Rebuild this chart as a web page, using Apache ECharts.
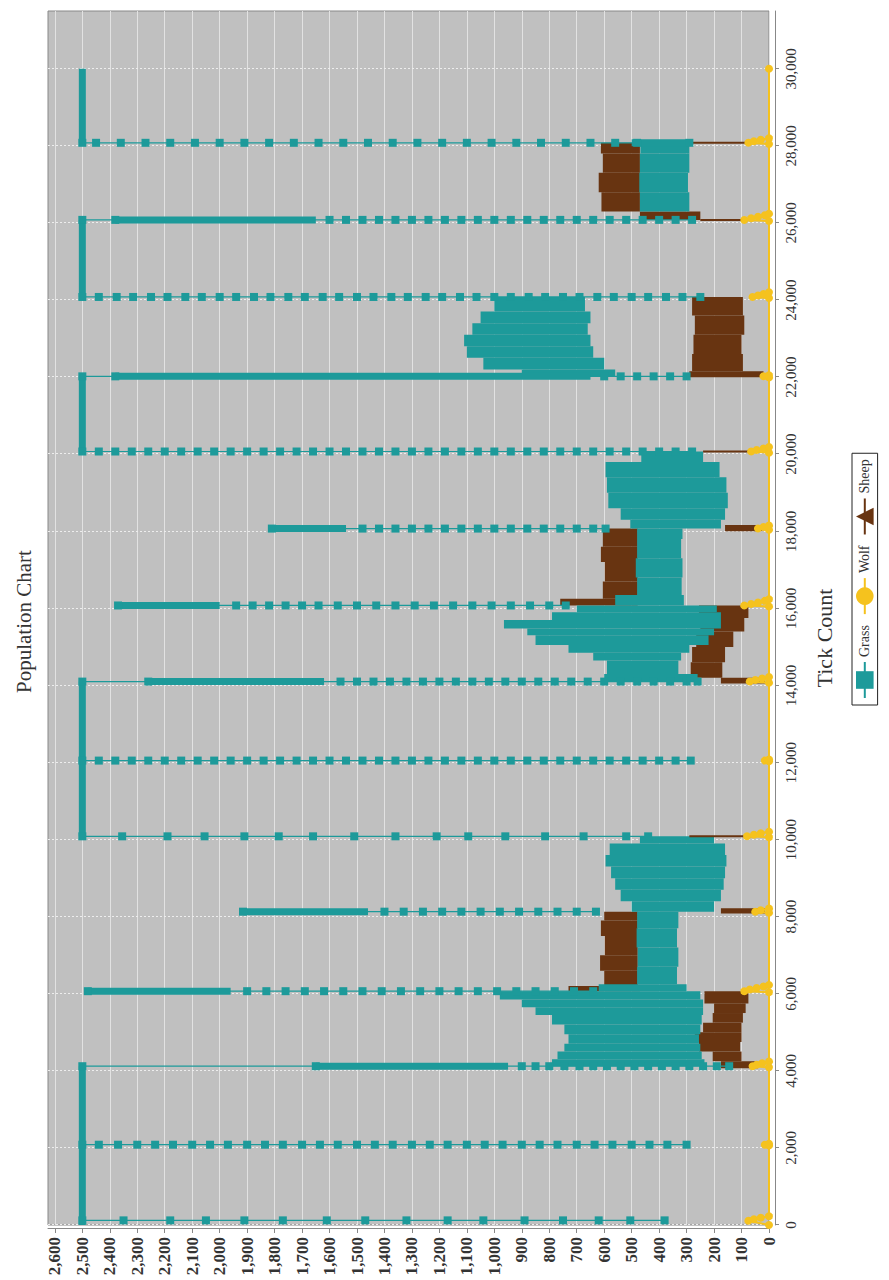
<!DOCTYPE html>
<html>
<head>
<meta charset="utf-8">
<script src="https://cdn.jsdelivr.net/npm/echarts@6.0.0/dist/echarts.min.js"></script>
<style>
  html, body { margin: 0; padding: 0; background: #fff; }
  body { width: 889px; height: 1280px; overflow: hidden; position: relative; }
  /* chart is laid out landscape and turned a quarter left, like the scanned page */
  #chart { position: absolute; left: 0; top: 1280px; width: 1280px; height: 889px;
           transform-origin: 0 0; transform: rotate(-90deg); }
</style>
</head>
<body>
<div id="chart"></div>
<script>
const tickCounts = [0, 2000, 4000, 6000, 8000, 10000, 12000, 14000, 16000, 18000, 20000, 22000, 24000, 26000, 28000, 30000]
const popTicks = [0, 100, 200, 300, 400, 500, 600, 700, 800, 900, 1000, 1100, 1200, 1300, 1400, 1500, 1600, 1700, 1800, 1900, 2000, 2100, 2200, 2300, 2400, 2500, 2600]

// grass: columns of samples at the start of each run [tick, values]
const grassRows = [
  [120, [2500, 2350, 2180, 2050, 1910, 1770, 1610, 1470, 1320, 1170, 1040, 890, 750, 620, 505, 380]],
  [2083, [2500, 2440, 2370, 2300, 2235, 2170, 2100, 2035, 1970, 1900, 1835, 1770, 1700, 1635, 1570, 1500, 1435, 1370, 1300, 1235, 1170, 1100, 1035, 970, 900, 835, 770, 700, 635, 570, 500, 435, 370, 300]],
  [4120, [2500, 1650, 900, 850, 800, 745, 690, 640, 590, 540, 490, 440, 390, 340, 290, 240, 190, 145]],
  [6067, [2480, 1900, 1830, 1760, 1690, 1620, 1550, 1480, 1410, 1340, 1270, 1200, 1130, 1060, 990, 920, 850, 780, 710, 640]],
  [8130, [1915, 1400, 1330, 1260, 1190, 1120, 1050, 980, 910, 840, 770, 700, 630]],
  [10085, [2500, 2355, 2190, 2055, 1910, 1785, 1660, 1510, 1360, 1210, 1095, 960, 815, 675, 520, 440]],
  [12050, [2500, 2440, 2380, 2320, 2260, 2200, 2140, 2080, 2020, 1960, 1900, 1840, 1780, 1720, 1660, 1600, 1540, 1480, 1420, 1360, 1300, 1240, 1180, 1120, 1060, 1000, 940, 880, 820, 760, 700, 640, 580, 520, 460, 400, 340, 285]],
  [14100, [2500, 2260, 1560, 1500, 1440, 1380, 1320, 1260, 1200, 1140, 1080, 1020, 960, 900, 840, 780, 720, 660, 600, 540, 480, 420, 360, 300, 260]],
  [16075, [2370, 1940, 1880, 1820, 1760, 1700, 1640, 1570, 1500, 1430, 1360, 1290, 1220, 1150, 1080, 1010, 940, 870, 800, 740]],
  [18070, [1810, 1480, 1420, 1360, 1300, 1240, 1180, 1120, 1060, 1000, 940, 880, 820, 760, 700, 640, 595]],
  [20070, [2500, 2440, 2380, 2320, 2260, 2200, 2140, 2080, 2020, 1960, 1900, 1840, 1780, 1720, 1660, 1600, 1540, 1480, 1420, 1360, 1300, 1240, 1180, 1120, 1060, 1000, 940, 880, 820, 760, 700, 640, 580, 520, 460, 400, 340, 280]],
  [22020, [2500, 2380, 600, 540, 480, 420, 360, 300]],
  [24080, [2500, 2440, 2375, 2315, 2250, 2190, 2125, 2065, 2000, 1940, 1875, 1815, 1750, 1690, 1625, 1565, 1500, 1440, 1375, 1315, 1250, 1190, 1125, 1065, 1000, 940, 875, 815, 750, 690, 625, 565, 500, 440, 375, 315, 250]],
  [26080, [2500, 2380, 1600, 1540, 1480, 1420, 1360, 1300, 1240, 1180, 1120, 1060, 1000, 940, 880, 820, 760, 700, 640, 580, 520, 460, 400, 340, 280]],
  [28080, [2500, 2450, 2360, 2270, 2180, 2090, 2000, 1910, 1820, 1730, 1640, 1550, 1460, 1370, 1280, 1190, 1100, 1010, 920, 830, 740, 650, 560, 480, 290]]
]

// grass: stretches where the samples sit so close they read as a solid bar [t0, v0, t1, v1]
const grassSolid = [
  [0, 2500, 4120, 2500],
  [4120, 1650, 4120, 950],
  [6067, 2480, 6067, 1960],
  [8130, 1915, 8130, 1460],
  [10085, 2500, 14100, 2500],
  [14100, 2260, 14100, 1620],
  [16075, 2370, 16075, 2000],
  [18070, 1810, 18070, 1540],
  [20070, 2500, 22020, 2500],
  [22020, 2380, 22020, 650],
  [24080, 2500, 26080, 2500],
  [26080, 2380, 26080, 1650],
  [28080, 500, 28080, 290],
  [28080, 2500, 30000, 2500]
]

// grass: range it swings through while sheep are alive [t0, t1, low, high]
const grassBands = [
  [4120, 4300, 235, 790], [4300, 4500, 245, 770], [4500, 4700, 250, 745], [4700, 4950, 255, 730],
  [4950, 5200, 250, 745], [5200, 5450, 245, 790], [5450, 5650, 240, 850], [5650, 5850, 240, 900],
  [5850, 6067, 250, 980],
  [6067, 6250, 300, 620], [6250, 6700, 335, 480], [6700, 7200, 330, 478], [7200, 7700, 335, 482],
  [7700, 8130, 330, 480],
  [8130, 8400, 200, 500], [8400, 8700, 175, 540], [8700, 9000, 165, 560], [9000, 9300, 160, 575],
  [9300, 9600, 155, 595], [9600, 9900, 160, 580], [9900, 10085, 200, 470],
  [14100, 14300, 260, 600], [14300, 14650, 330, 590], [14650, 14850, 320, 640], [14850, 15050, 290, 730],
  [15050, 15300, 220, 850], [15300, 15480, 200, 880], [15480, 15700, 175, 965], [15700, 15900, 175, 790],
  [15900, 16075, 190, 700],
  [16075, 16350, 310, 560], [16350, 16800, 318, 480], [16800, 17300, 315, 485], [17300, 17800, 320, 480],
  [17800, 18070, 315, 480],
  [18070, 18300, 175, 505], [18300, 18600, 160, 540], [18600, 19000, 150, 585], [19000, 19400, 155, 590],
  [19400, 19800, 180, 595], [19800, 20070, 240, 465],
  [22020, 22200, 560, 900], [22200, 22500, 600, 1040], [22500, 22800, 640, 1100], [22800, 23100, 650, 1110],
  [23100, 23400, 660, 1080], [23400, 23700, 650, 1050], [23700, 24080, 670, 1000],
  [26300, 26800, 290, 470], [26800, 27300, 295, 472], [27300, 27800, 290, 470], [27800, 28080, 290, 468]
]

const sheepBands = [
  [4070, 4250, 40, 175], [4250, 4500, 100, 205], [4500, 4750, 105, 255], [4750, 5000, 100, 270],
  [5000, 5250, 100, 240], [5250, 5500, 95, 205], [5500, 5750, 85, 200], [5750, 6067, 75, 235],
  [6067, 6200, 470, 730], [6200, 6600, 478, 600], [6600, 7000, 478, 615], [7000, 7500, 478, 598],
  [7500, 7900, 478, 612], [7900, 8130, 478, 600],
  [8080, 8220, 15, 175],
  [14050, 14200, 15, 175], [14200, 14600, 170, 285], [14600, 15000, 160, 280], [15000, 15400, 130, 265],
  [15400, 15750, 90, 250], [15750, 16075, 75, 255],
  [16075, 16250, 478, 760], [16250, 16700, 478, 605], [16700, 17200, 478, 598], [17200, 17600, 478, 612],
  [17600, 18070, 478, 605],
  [18000, 18160, 25, 160],
  [22000, 22150, 20, 290], [22150, 22600, 95, 280], [22600, 23100, 100, 275], [23100, 23600, 90, 270],
  [23600, 24080, 95, 280],
  [26080, 26300, 250, 470], [26300, 26800, 470, 610], [26800, 27300, 470, 620], [27300, 27800, 470, 605],
  [27800, 28080, 470, 612]
]

// sheep: short drops at run changes [tick, from, to]
const sheepDrops = [[10085, 290, 60], [20070, 240, 50], [26080, 250, 60], [28080, 290, 80]]

const wolfPoints = [
  [0, 0], [110, 75], [150, 55], [190, 30], [230, 0],
  [2060, 0], [2083, 15], [2110, 0],
  [4090, 0], [4120, 60], [4160, 45], [4200, 25], [4240, 0],
  [6040, 0], [6067, 90], [6110, 70], [6150, 45], [6190, 20], [6230, 0],
  [8100, 0], [8130, 50], [8170, 30], [8210, 0],
  [10060, 0], [10085, 80], [10125, 55], [10165, 30], [10205, 0],
  [12030, 0], [12050, 15], [12080, 0],
  [14070, 0], [14100, 70], [14140, 50], [14180, 25], [14220, 0],
  [16050, 0], [16075, 90], [16115, 65], [16155, 40], [16195, 15], [16235, 0],
  [18040, 0], [18070, 40], [18110, 20], [18150, 0],
  [20040, 0], [20070, 65], [20110, 45], [20150, 20], [20190, 0],
  [21990, 0], [22020, 20], [22050, 0],
  [24050, 0], [24080, 60], [24120, 40], [24160, 20], [24200, 0],
  [26050, 0], [26080, 90], [26120, 65], [26160, 40], [26200, 15], [26240, 0],
  [28050, 0], [28080, 75], [28120, 55], [28160, 30], [28200, 0],
  [30000, 0]
]

const GRASS = '#1d9a9a'
const WOLF = '#f5c21e'
const SHEEP = '#683411'
const FONT = 'Liberation Serif'

function rowsToLine(rows) {
  let out = []
  rows.forEach(r => {
    r[1].forEach(v => out.push([r[0], v]))
    out.push([r[0], '-'])
  })
  return out
}

function segsToLine(segs) {
  let out = []
  segs.forEach(s => {
    out.push([s[0], s[1]], [s[2], s[3]], [s[2], '-'])
  })
  return out
}

function bandSeries(name, color, bands) {
  return {
    name: name,
    type: 'custom',
    data: bands,
    encode: { x: [0, 1], y: [2, 3] },
    renderItem: function(params, api) {
      let a = api.coord([api.value(0), api.value(3)])
      let b = api.coord([api.value(1), api.value(2)])
      return {
        type: 'rect',
        shape: { x: a[0], y: a[1], width: b[0] - a[0], height: b[1] - a[1] },
        style: { fill: color }
      }
    }
  }
}

const fmt = v => v.toLocaleString('en-US')

var myChart = echarts.init(document.getElementById('chart'), null, { renderer: 'svg', width: 1280, height: 889 })
let option = {
  animation: false,
  title: {
    text: 'Population Chart',
    left: 582,
    top: 8,
    textStyle: { fontFamily: FONT, fontWeight: 'normal', fontSize: 21, color: '#333' }
  },
  legend: {
    data: ['Grass', 'Wolf', 'Sheep'],
    left: 575,
    top: 852,
    itemWidth: 36,
    itemHeight: 22,
    itemGap: 10,
    padding: [4, 6],
    borderColor: '#222',
    borderWidth: 1,
    backgroundColor: '#fff',
    textStyle: { fontFamily: FONT, fontSize: 14, color: '#333' }
  },
  grid: {
    left: 55, right: 11, top: 48, bottom: 120,
    show: true,
    backgroundColor: '#c0c0c0',
    borderColor: '#888',
    borderWidth: 1,
    outerBoundsMode: 'none'
  },
  xAxis: {
    type: 'value',
    min: 0,
    max: 31500,
    interval: 2000,
    offset: 6,
    name: 'Tick Count',
    nameLocation: 'middle',
    nameGap: 38,
    nameTextStyle: { fontFamily: FONT, fontSize: 22, color: '#333', padding: [0, 40, 0, 0] },
    axisLine: { show: true, onZero: false, lineStyle: { color: '#888' } },
    axisTick: { show: true, length: 4, customValues: tickCounts, lineStyle: { color: '#888' } },
    axisLabel: { margin: 8, customValues: tickCounts, fontFamily: FONT, fontSize: 15, color: '#333', formatter: fmt },
    splitLine: { show: true, lineStyle: { color: '#ededed', type: [2, 2], width: 1 } }
  },
  yAxis: {
    type: 'value',
    min: 0,
    max: 2625,
    interval: 100,
    offset: 4,
    axisLine: { show: true, onZero: false, lineStyle: { color: '#888' } },
    axisTick: { show: true, length: 4, customValues: popTicks, lineStyle: { color: '#888' } },
    axisLabel: { margin: 8, customValues: popTicks, fontFamily: FONT, fontWeight: 'bold', fontSize: 17, color: '#333', formatter: fmt },
    splitLine: { show: true, lineStyle: { color: '#e2e2e2', width: 1 } }
  },
  series: [
    {
      name: 'Sheep',
      type: 'line',
      data: segsToLine(sheepDrops.map(d => [d[0], d[1], d[0], d[2]])),
      symbol: 'triangle',
      showSymbol: false,
      lineStyle: { color: SHEEP, width: 2 },
      itemStyle: { color: SHEEP }
    },
    bandSeries('Sheep', SHEEP, sheepBands),
    {
      name: 'Wolf',
      type: 'line',
      data: wolfPoints,
      symbol: 'circle',
      symbolSize: 8,
      lineStyle: { color: WOLF, width: 2 },
      itemStyle: { color: WOLF }
    },
    {
      name: 'Grass',
      type: 'line',
      data: rowsToLine(grassRows),
      symbol: 'rect',
      symbolSize: 8,
      lineStyle: { color: GRASS, width: 1.2 },
      itemStyle: { color: GRASS }
    },
    {
      name: 'Grass',
      type: 'line',
      data: segsToLine(grassSolid),
      showSymbol: false,
      lineStyle: { color: GRASS, width: 7, cap: 'butt' },
      itemStyle: { color: GRASS }
    },
    bandSeries('Grass', GRASS, grassBands)
  ]
}
myChart.setOption(option)
</script>
</body>
</html>
